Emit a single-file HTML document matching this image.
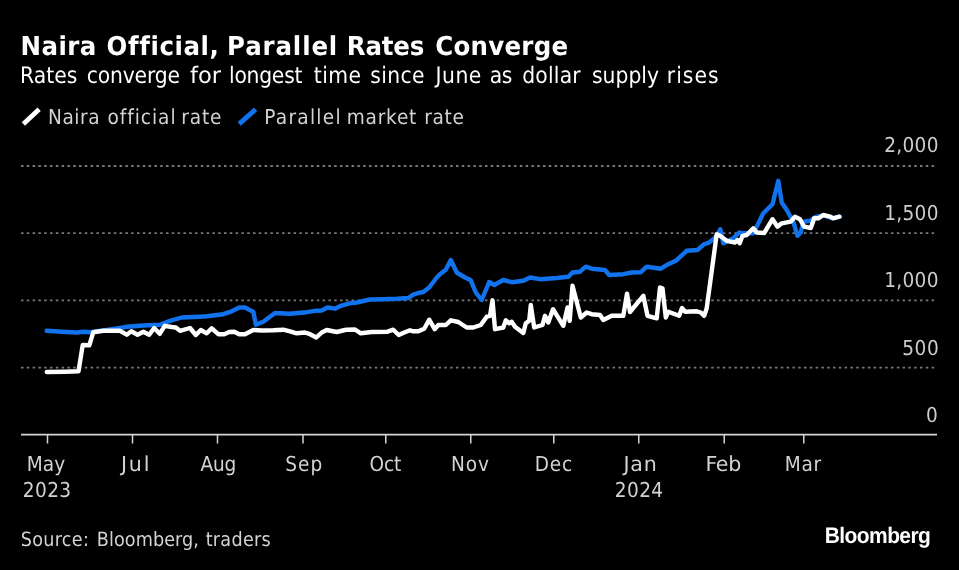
<!DOCTYPE html>
<html><head><meta charset="utf-8"><title>Naira Official, Parallel Rates Converge</title>
<style>
html,body{margin:0;padding:0;background:#000;}
body{width:959px;height:570px;overflow:hidden;position:relative;}
svg{position:absolute;left:0;top:0;display:block;}
text{white-space:pre;text-rendering:geometricPrecision;}
</style></head><body>
<svg width="959" height="570" viewBox="0 0 959 570">
<rect width="959" height="570" fill="#000"/>
<path d="M21 166H937M21 233.2H937M21 300.4H937M21 367.6H937" stroke="#787878" stroke-width="1.8" stroke-dasharray="2.5 3.3" fill="none"/>
<path d="M21 434.6H937" stroke="#d4d4d4" stroke-width="1.6" fill="none"/>
<path d="M47.5 434.6v8.8M132.5 434.6v8.8M217.5 434.6v8.8M303 434.6v8.8M385.75 434.6v8.8M470.75 434.6v8.8M553.75 434.6v8.8M638.75 434.6v8.8M724.25 434.6v8.8M803.75 434.6v8.8" stroke="#d4d4d4" stroke-width="1.5" fill="none"/>
<path d="M46.7 330.8 L61.7 331.7 L76.7 332.5 L83.3 331.7 L90.0 332.2 L106.7 330.0 L123.3 327.5 L126.7 326.7 L143.3 325.5 L160.0 324.7 L170.0 320.8 L181.7 317.5 L199.8 316.7 L206.7 316.3 L223.3 314.2 L231.7 311.3 L239.2 307.5 L245.0 307.5 L249.2 309.7 L253.3 311.7 L255.8 324.7 L263.3 321.7 L268.3 318.0 L275.0 313.0 L290.0 313.7 L306.7 312.2 L315.0 310.8 L321.7 310.5 L327.5 307.5 L335.0 308.7 L340.8 305.8 L349.8 303.3 L356.7 302.5 L370.0 299.5 L383.3 299.2 L396.7 298.7 L408.3 298.0 L413.3 294.7 L418.3 293.0 L423.3 292.0 L429.2 287.5 L436.7 277.5 L440.0 274.2 L445.8 269.7 L450.8 260.0 L456.7 272.5 L465.0 277.5 L470.8 280.3 L475.8 292.5 L481.7 300.0 L489.2 282.0 L494.2 285.0 L503.3 280.0 L511.7 282.2 L523.3 280.8 L530.0 277.5 L540.0 279.2 L556.7 278.0 L568.3 276.8 L572.5 272.5 L580.0 271.7 L585.8 266.7 L591.7 268.7 L605.0 270.0 L609.2 275.0 L623.3 274.2 L631.7 272.5 L640.8 272.2 L646.7 266.7 L660.8 268.7 L666.7 265.0 L675.8 260.8 L686.7 250.8 L697.5 250.0 L704.2 244.2 L708.3 243.0 L713.3 239.2 L716.7 235.8 L720.3 229.2 L723.3 243.3 L733.3 238.3 L739.2 232.5 L743.3 233.3 L753.3 233.3 L757.5 225.0 L763.3 213.3 L772.5 204.2 L778.3 180.8 L781.7 202.5 L786.7 210.0 L793.3 221.7 L797.5 235.8 L800.8 232.5 L803.3 221.7 L810.0 220.8 L815.0 217.2 L823.3 215.3 L831.7 218.3 L840.0 216.7" stroke="#1172ee" stroke-width="4.4" fill="none" stroke-linejoin="round" stroke-linecap="round"/>
<path d="M46.7 372.0 L65.0 371.7 L78.5 371.3 L82.7 345.0 L89.3 345.3 L93.3 332.2 L103.3 330.8 L120.0 330.8 L126.7 334.7 L131.3 331.3 L137.5 334.7 L143.3 331.7 L149.2 334.7 L154.2 328.0 L159.7 333.8 L164.7 325.8 L171.7 327.0 L175.8 327.5 L180.0 330.8 L190.0 328.0 L195.8 335.0 L200.8 330.0 L206.7 333.3 L211.7 328.3 L218.3 334.2 L224.2 334.2 L229.2 332.0 L234.2 331.7 L239.2 334.2 L245.0 334.2 L253.3 330.0 L261.7 330.5 L273.3 330.3 L283.3 329.7 L290.0 331.3 L296.7 333.3 L305.0 332.5 L310.0 334.2 L316.3 337.5 L321.7 332.5 L326.7 330.0 L336.7 332.0 L345.0 330.0 L346.7 329.7 L355.0 329.5 L360.8 333.3 L371.7 332.0 L387.5 331.7 L393.3 329.7 L398.7 335.0 L404.2 332.5 L410.0 330.3 L413.3 331.3 L418.3 331.2 L424.2 328.7 L429.2 319.7 L434.7 329.2 L438.3 325.0 L445.8 325.0 L450.8 320.3 L458.3 322.0 L466.7 327.5 L473.3 327.5 L480.8 325.0 L486.7 316.7 L490.0 315.8 L492.5 300.3 L495.0 329.2 L503.3 327.5 L505.8 320.3 L509.2 323.3 L511.7 321.7 L515.0 326.7 L523.3 333.0 L525.8 323.3 L529.2 320.8 L530.8 305.0 L534.2 327.5 L542.5 325.0 L545.0 315.8 L548.3 322.5 L553.0 309.2 L563.3 325.8 L567.5 307.5 L569.7 320.8 L572.5 285.8 L580.8 317.5 L586.7 312.5 L591.7 314.2 L600.0 315.0 L603.3 320.0 L611.7 315.8 L623.3 315.8 L627.0 293.7 L630.0 312.0 L643.3 295.8 L647.5 315.8 L656.7 318.3 L660.0 287.5 L662.5 288.3 L665.8 317.5 L668.3 311.7 L679.2 315.8 L682.0 308.0 L685.0 311.7 L696.7 311.3 L700.8 312.5 L704.2 315.8 L706.7 308.3 L716.7 234.2 L720.0 235.8 L726.7 240.8 L735.0 242.5 L737.5 240.0 L739.7 243.3 L742.5 235.8 L746.7 235.0 L753.3 228.3 L756.7 232.5 L764.2 233.0 L772.5 219.2 L777.5 226.7 L781.7 223.3 L790.8 221.7 L795.0 216.7 L800.0 219.2 L804.2 226.7 L810.8 228.0 L814.2 218.3 L818.3 218.3 L823.3 215.0 L829.2 216.3 L833.3 218.3 L839.2 216.7" stroke="#fff" stroke-width="4.4" fill="none" stroke-linejoin="round" stroke-linecap="round"/>
<path d="M23.4 123.9L39.1 109.3" stroke="#fff" stroke-width="4.8" fill="none"/>
<path d="M239.2 123.9L255.6 109.3" stroke="#1172ee" stroke-width="4.8" fill="none"/>
<g style="opacity:0.999">
<text transform="translate(20.50 54.7) scale(1 1.065)" style="font-family:'DejaVu Sans','Liberation Sans',sans-serif;font-weight:bold;font-size:24.5px;letter-spacing:0.425px" fill="#fff">Naira</text>
<text transform="translate(106.50 54.7) scale(1 1.065)" style="font-family:'DejaVu Sans','Liberation Sans',sans-serif;font-weight:bold;font-size:24.5px;letter-spacing:0.587px" fill="#fff">Official,</text>
<text transform="translate(227.00 54.7) scale(1 1.065)" style="font-family:'DejaVu Sans','Liberation Sans',sans-serif;font-weight:bold;font-size:24.5px;letter-spacing:0.857px" fill="#fff">Parallel</text>
<text transform="translate(346.70 54.7) scale(1 1.065)" style="font-family:'DejaVu Sans','Liberation Sans',sans-serif;font-weight:bold;font-size:24.5px;letter-spacing:-0.175px" fill="#fff">Rates</text>
<text transform="translate(435.25 54.7) scale(1 1.065)" style="font-family:'DejaVu Sans','Liberation Sans',sans-serif;font-weight:bold;font-size:24.5px;letter-spacing:0.250px" fill="#fff">Converge</text>
<text x="20.00" y="83" style="font-family:'DejaVu Sans Condensed','DejaVu Sans','Liberation Sans',sans-serif;font-size:22.6px;letter-spacing:0.075px" fill="#fff">Rates</text>
<text x="86.80" y="83" style="font-family:'DejaVu Sans Condensed','DejaVu Sans','Liberation Sans',sans-serif;font-size:22.6px;letter-spacing:-0.186px" fill="#fff">converge</text>
<text x="190.00" y="83" style="font-family:'DejaVu Sans','Liberation Sans',sans-serif;font-size:22.6px;letter-spacing:0.000px" fill="#fff">for</text>
<text x="229.00" y="83" style="font-family:'DejaVu Sans Condensed','DejaVu Sans','Liberation Sans',sans-serif;font-size:22.6px;letter-spacing:-0.250px" fill="#fff">longest</text>
<text x="313.75" y="83" style="font-family:'DejaVu Sans Condensed','DejaVu Sans','Liberation Sans',sans-serif;font-size:22.6px;letter-spacing:0.417px" fill="#fff">time</text>
<text x="370.25" y="83" style="font-family:'DejaVu Sans Condensed','DejaVu Sans','Liberation Sans',sans-serif;font-size:22.6px;letter-spacing:0.375px" fill="#fff">since</text>
<text x="435.50" y="83" style="font-family:'DejaVu Sans Condensed','DejaVu Sans','Liberation Sans',sans-serif;font-size:22.6px;letter-spacing:0.500px" fill="#fff">June</text>
<text x="489.75" y="83" style="font-family:'DejaVu Sans Condensed','DejaVu Sans','Liberation Sans',sans-serif;font-size:22.6px;letter-spacing:-0.500px" fill="#fff">as</text>
<text x="522.25" y="83" style="font-family:'DejaVu Sans Condensed','DejaVu Sans','Liberation Sans',sans-serif;font-size:22.6px;letter-spacing:0.200px" fill="#fff">dollar</text>
<text x="592.00" y="83" style="font-family:'DejaVu Sans Condensed','DejaVu Sans','Liberation Sans',sans-serif;font-size:22.6px;letter-spacing:0.000px" fill="#fff">supply</text>
<text x="666.75" y="83" style="font-family:'DejaVu Sans Condensed','DejaVu Sans','Liberation Sans',sans-serif;font-size:22.6px;letter-spacing:1.062px" fill="#fff">rises</text>
<text x="48.00" y="124.2" style="font-family:'DejaVu Sans Condensed','DejaVu Sans','Liberation Sans',sans-serif;font-size:20.6px;letter-spacing:0.575px" fill="#d4d4d4">Naira</text>
<text x="107.50" y="124.2" style="font-family:'DejaVu Sans Condensed','DejaVu Sans','Liberation Sans',sans-serif;font-size:20.6px;letter-spacing:0.957px" fill="#d4d4d4">official</text>
<text x="181.30" y="124.2" style="font-family:'DejaVu Sans Condensed','DejaVu Sans','Liberation Sans',sans-serif;font-size:20.6px;letter-spacing:0.833px" fill="#d4d4d4">rate</text>
<text x="264.30" y="124.2" style="font-family:'DejaVu Sans Condensed','DejaVu Sans','Liberation Sans',sans-serif;font-size:20.6px;letter-spacing:1.271px" fill="#d4d4d4">Parallel</text>
<text x="346.70" y="124.2" style="font-family:'DejaVu Sans Condensed','DejaVu Sans','Liberation Sans',sans-serif;font-size:20.6px;letter-spacing:0.800px" fill="#d4d4d4">market</text>
<text x="424.30" y="124.2" style="font-family:'DejaVu Sans Condensed','DejaVu Sans','Liberation Sans',sans-serif;font-size:20.6px;letter-spacing:0.667px" fill="#d4d4d4">rate</text>
<text x="884.30" y="152.2" style="font-family:'DejaVu Sans Condensed','DejaVu Sans','Liberation Sans',sans-serif;font-size:20.6px;letter-spacing:0.275px" fill="#cecece">2,000</text>
<text x="884.30" y="219.5" style="font-family:'DejaVu Sans Condensed','DejaVu Sans','Liberation Sans',sans-serif;font-size:20.6px;letter-spacing:0.275px" fill="#cecece">1,500</text>
<text x="884.30" y="287.2" style="font-family:'DejaVu Sans Condensed','DejaVu Sans','Liberation Sans',sans-serif;font-size:20.6px;letter-spacing:0.275px" fill="#cecece">1,000</text>
<text x="902.20" y="354.5" style="font-family:'DejaVu Sans Condensed','DejaVu Sans','Liberation Sans',sans-serif;font-size:20.6px;letter-spacing:0.600px" fill="#cecece">500</text>
<text x="926.05" y="421.8" style="font-family:'DejaVu Sans Condensed','DejaVu Sans','Liberation Sans',sans-serif;font-size:20.6px;letter-spacing:0.000px" fill="#cecece">0</text>
<text x="26.75" y="471.2" style="font-family:'DejaVu Sans Condensed','DejaVu Sans','Liberation Sans',sans-serif;font-size:20.6px;letter-spacing:0.125px" fill="#d4d4d4">May</text>
<text x="121.00" y="471.2" style="font-family:'DejaVu Sans','Liberation Sans',sans-serif;font-size:20.6px;letter-spacing:1.750px" fill="#d4d4d4">Jul</text>
<text x="200.50" y="471.2" style="font-family:'DejaVu Sans Condensed','DejaVu Sans','Liberation Sans',sans-serif;font-size:20.6px;letter-spacing:-0.250px" fill="#d4d4d4">Aug</text>
<text x="285.25" y="471.2" style="font-family:'DejaVu Sans Condensed','DejaVu Sans','Liberation Sans',sans-serif;font-size:20.6px;letter-spacing:1.000px" fill="#d4d4d4">Sep</text>
<text x="369.50" y="471.2" style="font-family:'DejaVu Sans Condensed','DejaVu Sans','Liberation Sans',sans-serif;font-size:20.6px;letter-spacing:-0.125px" fill="#d4d4d4">Oct</text>
<text x="451.00" y="471.2" style="font-family:'DejaVu Sans Condensed','DejaVu Sans','Liberation Sans',sans-serif;font-size:20.6px;letter-spacing:0.875px" fill="#d4d4d4">Nov</text>
<text x="534.75" y="471.2" style="font-family:'DejaVu Sans Condensed','DejaVu Sans','Liberation Sans',sans-serif;font-size:20.6px;letter-spacing:0.750px" fill="#d4d4d4">Dec</text>
<text x="623.50" y="471.2" style="font-family:'DejaVu Sans','Liberation Sans',sans-serif;font-size:20.6px;letter-spacing:0.750px" fill="#d4d4d4">Jan</text>
<text x="705.50" y="471.2" style="font-family:'DejaVu Sans','Liberation Sans',sans-serif;font-size:20.6px;letter-spacing:-0.375px" fill="#d4d4d4">Feb</text>
<text x="784.75" y="471.2" style="font-family:'DejaVu Sans Condensed','DejaVu Sans','Liberation Sans',sans-serif;font-size:20.6px;letter-spacing:0.750px" fill="#d4d4d4">Mar</text>
<text x="22.75" y="496.8" style="font-family:'DejaVu Sans Condensed','DejaVu Sans','Liberation Sans',sans-serif;font-size:20.6px;letter-spacing:0.417px" fill="#d4d4d4">2023</text>
<text x="614.75" y="496.8" style="font-family:'DejaVu Sans Condensed','DejaVu Sans','Liberation Sans',sans-serif;font-size:20.6px;letter-spacing:0.417px" fill="#d4d4d4">2024</text>
<text x="20.70" y="546" style="font-family:'DejaVu Sans Condensed','DejaVu Sans','Liberation Sans',sans-serif;font-size:19.6px;letter-spacing:0.300px" fill="#d4d4d4">Source:</text>
<text x="96.80" y="546" style="font-family:'DejaVu Sans Condensed','DejaVu Sans','Liberation Sans',sans-serif;font-size:19.6px;letter-spacing:0.078px" fill="#d4d4d4">Bloomberg,</text>
<text x="205.70" y="546" style="font-family:'DejaVu Sans Condensed','DejaVu Sans','Liberation Sans',sans-serif;font-size:19.6px;letter-spacing:0.267px" fill="#d4d4d4">traders</text>
<text transform="translate(824.80 543.1) scale(1 1.065)" style="font-family:'Liberation Sans','DejaVu Sans',sans-serif;font-weight:bold;font-size:21px;letter-spacing:-0.600px" fill="#fff">Bloomberg</text>
</g>
</svg>
</body></html>
